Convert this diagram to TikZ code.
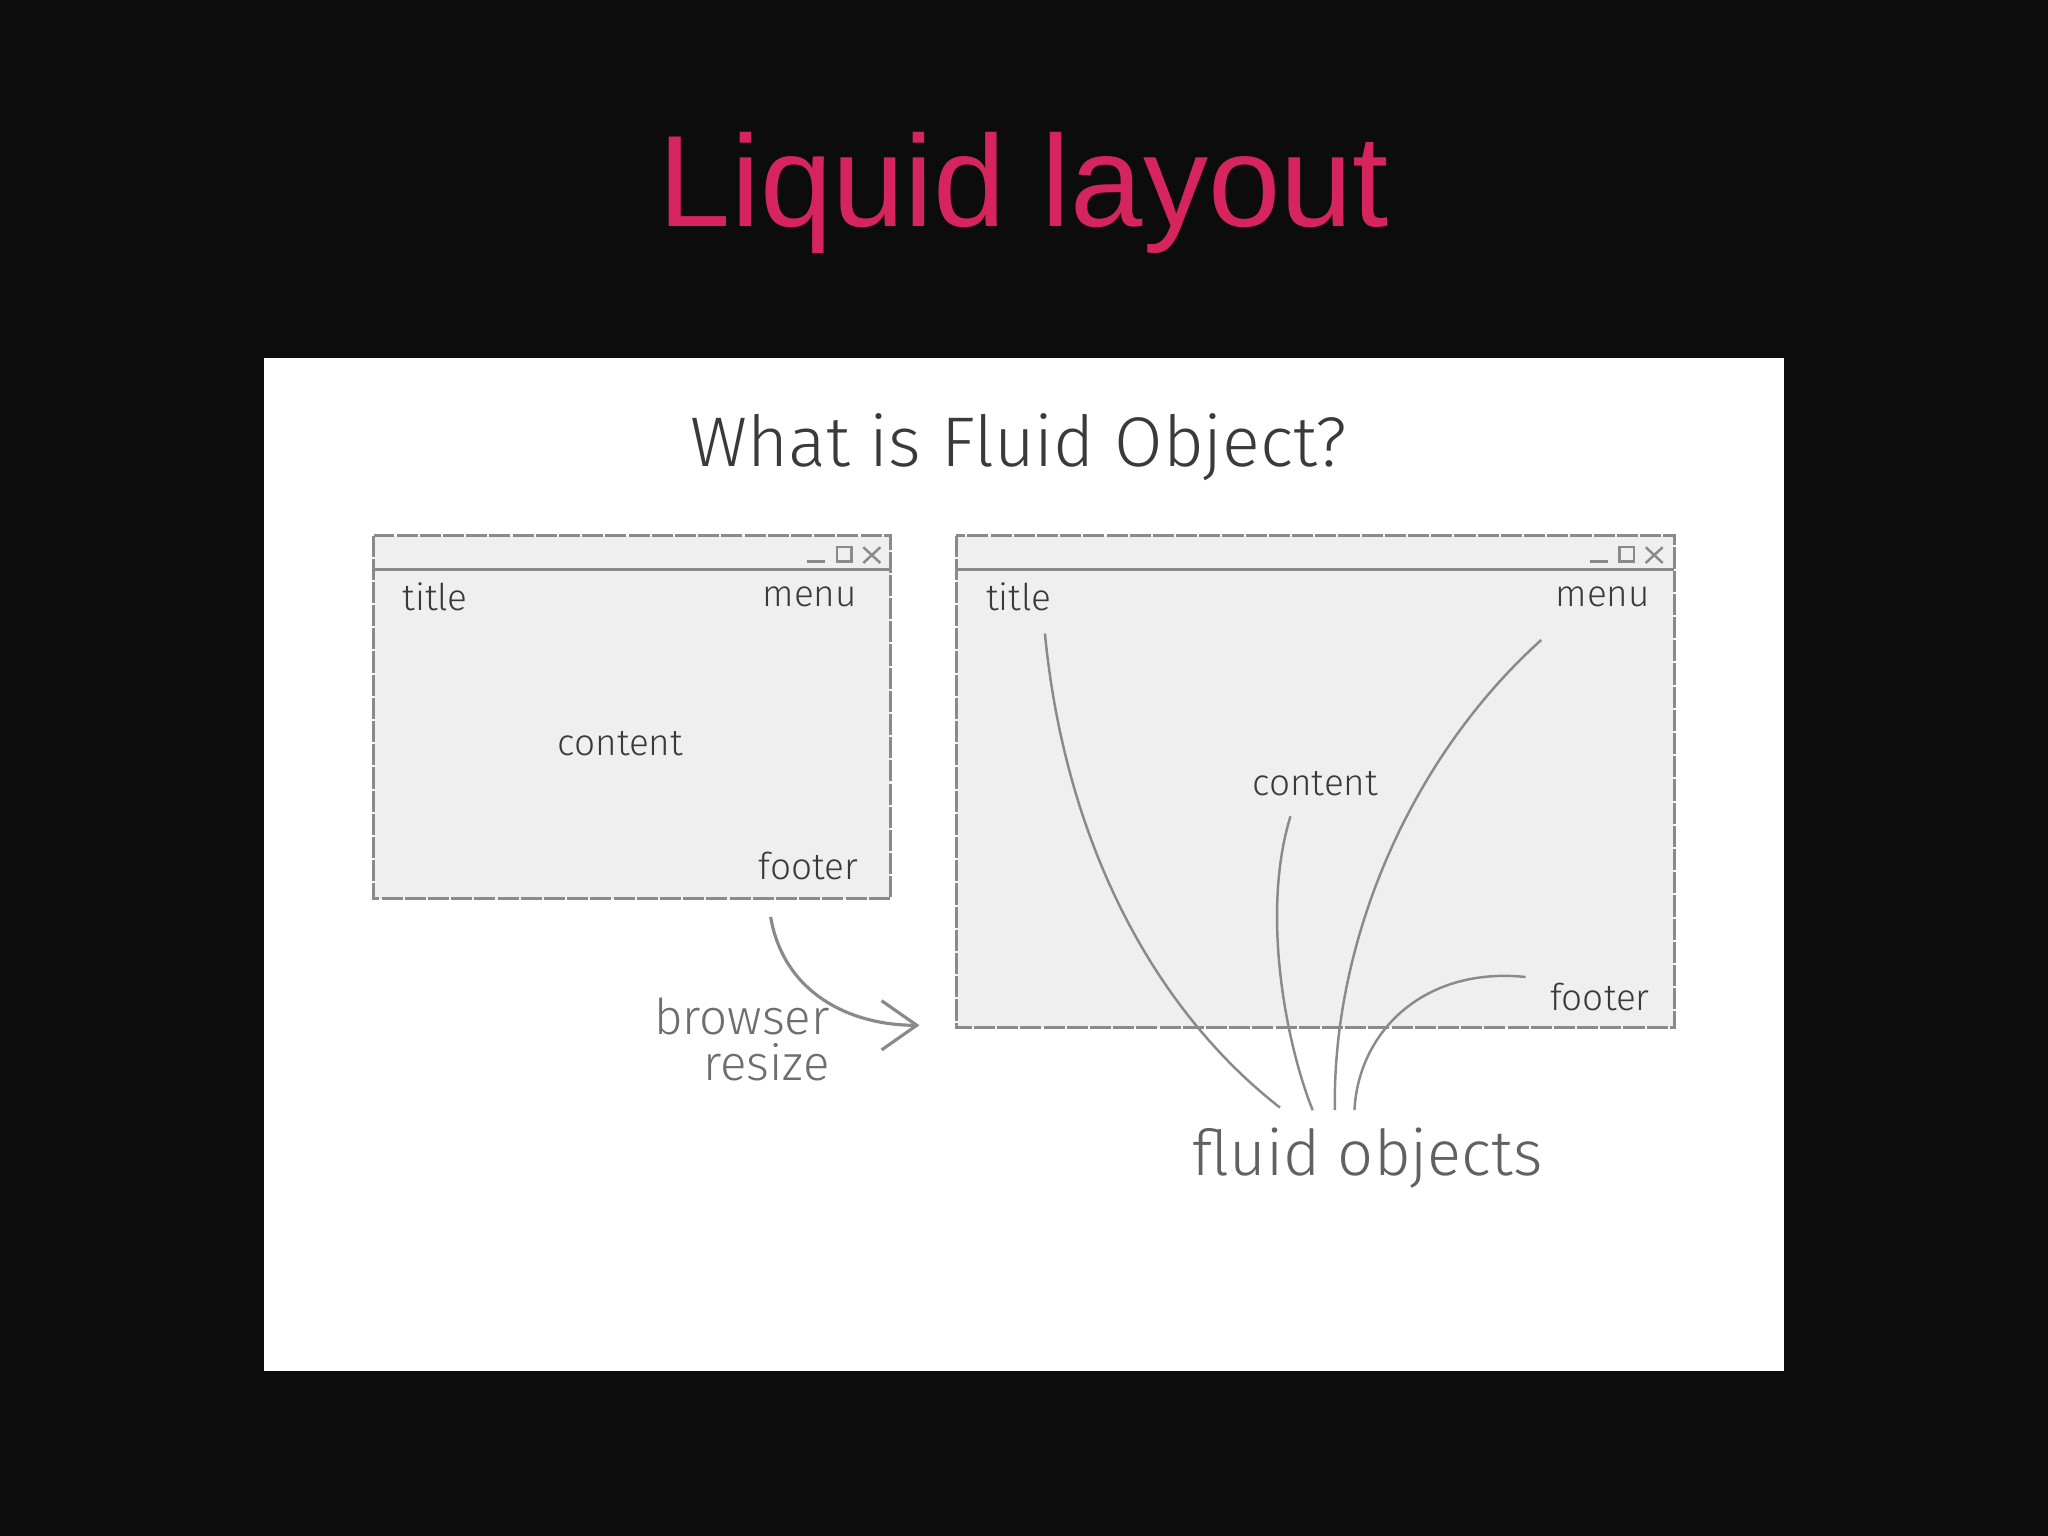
\documentclass[tikz,border=0pt]{standalone}
\usepackage{fontspec}
\setmainfont{Liberation Sans}
\newfontfamily\hand{Fira Sans Light}
\usetikzlibrary{arrows.meta}
\definecolor{bg}{HTML}{0C0C0C}
\definecolor{pinkt}{HTML}{D6245F}
\definecolor{win}{HTML}{EFEFEF}
\definecolor{ink}{HTML}{3A3A3A}
\definecolor{pen}{HTML}{8A8A8A}
\begin{document}
\begin{tikzpicture}[x=0.01306cm,y=-0.01306cm,
  lbl/.style={font=\hand\fontsize{10.5pt}{12pt}\selectfont,text=ink,inner sep=0},
  window/.style={draw=pen,fill=win,line width=0.9pt,dash pattern=on 6pt off 0.6pt},
  stroke/.style={draw=pen,line width=0.7pt}]
\useasboundingbox (0,0) rectangle (1568,1176);
\fill[bg] (0,0) rectangle (1568,1176);
\node[font=\fontsize{37pt}{42pt}\selectfont,text=pinkt,inner sep=0] (ttl) at (784,148) {Liquid layout};
\fill[white] (202,274) rectangle (1366,1050);
\node[font=\hand\fontsize{20pt}{24pt}\selectfont,text=ink,inner sep=0] (q) at (780,342) {What is Fluid Object?};
% left window
\path[window] (286,410) rectangle (682,688);
\draw[stroke] (286,436) -- (682,436);
\draw[stroke] (618,430) -- (632,430);
\draw[stroke] (641,419) rectangle (652,430);
\draw[stroke] (661,419) -- (674,431) (674,419) -- (661,431);
\node[lbl] (lt) at (333,457) {title};
\node[lbl] (lm) at (620,457) {menu};
\node[lbl] (lc) at (475,569) {content};
\node[lbl] (lf) at (619,663) {footer};
% right window
\path[window] (732,410) rectangle (1282,787);
\draw[stroke] (732,436) -- (1282,436);
\draw[stroke] (1217,430) -- (1231,430);
\draw[stroke] (1240,419) rectangle (1251,430);
\draw[stroke] (1260,419) -- (1273,431) (1273,419) -- (1260,431);
\node[lbl] (rt) at (780,457) {title};
\node[lbl] (rm) at (1227,457) {menu};
\node[lbl] (rc) at (1007,600) {content};
\node[lbl] (rf) at (1225,763) {footer};
% resize arrow
\coordinate (a0) at (590,702);
\coordinate (a1) at (704,785);
\draw[stroke,line width=0.9pt,-{Straight Barb[length=10pt,width=14pt]}] (a0) .. controls (600,760) and (650,785) .. (a1);
\node[font=\hand\fontsize{14pt}{16pt}\selectfont,text=pen!80!black,align=right,inner sep=0] (br) at (568,796) {browser\\[-3pt]\hspace*{1em}resize};
% fluid objects
\node[font=\hand\fontsize{18pt}{20pt}\selectfont,text=ink!80,inner sep=0] (fo) at (1047,887) {fluid objects};
\coordinate (c1) at (800,485);
\coordinate (c2) at (988,625);
\coordinate (c3) at (1180,490);
\coordinate (c4) at (1168,748);
\coordinate (e1) at (980,848);
\coordinate (e2) at (1005,850);
\coordinate (e3) at (1022,850);
\coordinate (e4) at (1037,850);
\draw[stroke] (c1) .. controls (815,640) and (880,770) .. (e1);
\draw[stroke] (c2) .. controls (965,700) and (985,800) .. (e2);
\draw[stroke] (c3) .. controls (1080,580) and (1020,720) .. (e3);
\draw[stroke] (c4) .. controls (1090,740) and (1040,790) .. (e4);
\end{tikzpicture}
\end{document}
